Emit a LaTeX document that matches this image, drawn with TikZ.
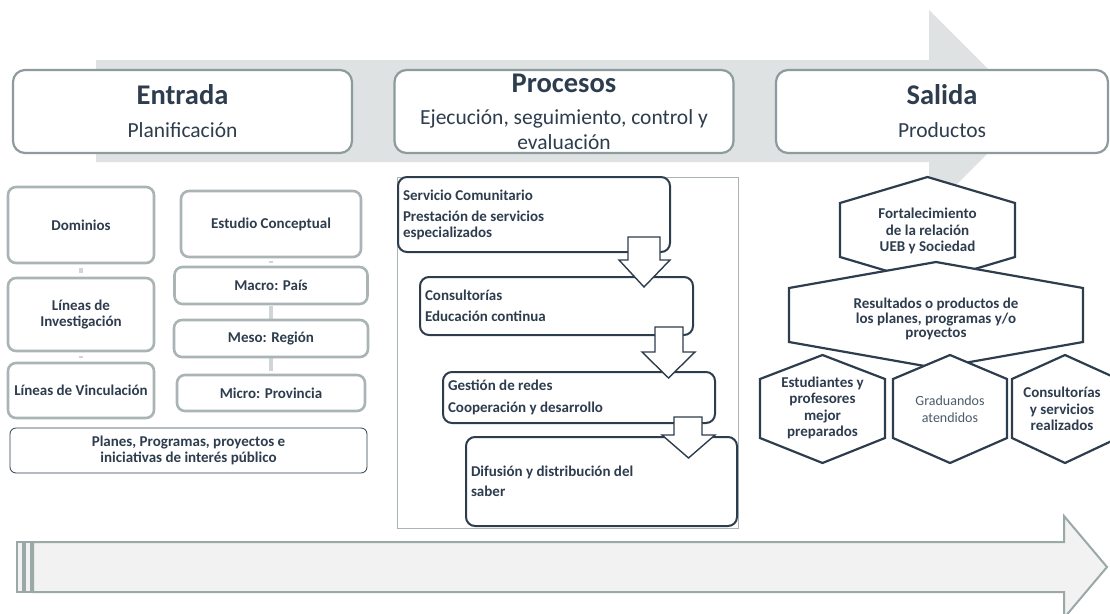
\documentclass[tikz,border=0pt]{standalone}
\usepackage{fontspec}
\setmainfont{Carlito}
\usetikzlibrary{positioning, backgrounds}

\definecolor{slate}{HTML}{2E3D4E}
\definecolor{greyline}{HTML}{8D9B9C}
\definecolor{lightline}{HTML}{AAB4B5}
\definecolor{bandfill}{HTML}{DEE2E3}
\definecolor{basefill}{HTML}{F2F2F2}
\definecolor{arrowline}{HTML}{9AA8A8}

\tikzset{
  headbox/.style={draw=greyline, line width=2.2pt, rounded corners=12pt, fill=white,
    minimum width=339pt, minimum height=83pt, align=center, inner sep=0pt,
    font=\fontsize{21.5}{25}\selectfont},
  leftbox/.style={draw=lightline, line width=2.6pt, rounded corners=8pt, fill=white,
    align=center, inner sep=2pt, font=\fontsize{15}{16.5}\selectfont\bfseries},
  procbox/.style={draw=slate, line width=2pt, rounded corners=9pt, fill=white,
    align=flush left, inner xsep=5pt, inner ysep=0pt, font=\fontsize{15}{15.5}\selectfont\bfseries},
  hexline/.style={draw=slate, line width=2.2pt, fill=white, line join=miter},
  hextext/.style={align=center, inner sep=0pt, font=\fontsize{15}{16.5}\selectfont\bfseries},
  downarrow/.style={draw=slate, line width=1.4pt, fill=white, line join=miter},
  link/.style={lightline!55, line width=3.5pt},
  basearrow/.style={draw=arrowline, fill=basefill}
}

\begin{document}
\begin{tikzpicture}[x=1pt, y=-1pt, text=slate]
    \useasboundingbox (0,0) rectangle (1110,613);

    \coordinate (a01) at (182.5,111.5);
    \coordinate (a02) at (564  ,111.5);
    \coordinate (a03) at (942  ,111.5);

    \coordinate (b01) at (81  ,225);
    \coordinate (b02) at (81  ,314.5);
    \coordinate (b03) at (81  ,390.5);
    \coordinate (b04) at (271 ,224);
    \coordinate (b05) at (271 ,285.5);
    \coordinate (b06) at (271 ,338.5);
    \coordinate (b07) at (271 ,393);
    \coordinate (b08) at (188.5,450.5);

    \coordinate (p01) at (534  ,214.5);
    \coordinate (p02) at (556.5,306);
    \coordinate (p03) at (579  ,397.5);
    \coordinate (p04) at (601.5,481.5);

    \coordinate (s01) at (927.5,231);
    \coordinate (s02) at (936  ,319);
    \coordinate (s03) at (822.5,408);
    \coordinate (s04) at (950  ,409);
    \coordinate (s05) at (1062 ,409);

    % big arrow behind the headers
    \fill[bandfill] (96,60) -- (929,60) -- (929,10) -- (1030,111) -- (929,212) -- (929,162) -- (96,162) -- cycle;

    \node[headbox] (entrada) at (a01) {{\fontsize{28.5}{30}\selectfont\bfseries Entrada}\\[8pt] Planificación};
    \node[headbox] (procesos) at (a02) {{\fontsize{28.5}{30}\selectfont\bfseries Procesos}\\[7pt] Ejecución, seguimiento, control y\\ evaluación};
    \node[headbox, minimum width=332pt] (salida) at (a03) {{\fontsize{28.5}{30}\selectfont\bfseries Salida}\\[8pt] Productos};

    % entrada
    \node[leftbox, minimum width=146pt, minimum height=76pt] (dominios) at (b01) {Dominios};
    \node[leftbox, minimum width=146pt, minimum height=73pt] (lininv) at (b02) {Líneas de\\ Investigación};
    \node[leftbox, minimum width=146pt, minimum height=55pt] (linvin) at (b03) {Líneas de Vinculación};
    \node[leftbox, minimum width=180pt, minimum height=66pt] (estudio) at (b04) {Estudio Conceptual};
    \node[leftbox, minimum width=193pt, minimum height=37pt] (macro) at (b05) {Macro: País};
    \node[leftbox, minimum width=194pt, minimum height=37pt] (meso) at (b06) {Meso: Región};
    \node[leftbox, minimum width=188pt, minimum height=36pt] (micro) at (b07) {Micro: Provincia};
    \node[leftbox, draw=slate, line width=0.8pt, rounded corners=6pt, minimum width=357pt, minimum height=45pt] (planes) at (b08) {Planes, Programas, proyectos e\\ iniciativas de interés público};

    \draw[link, shorten <=4pt, shorten >=4pt] (dominios) -- (lininv);
    \draw[link, shorten <=4pt, shorten >=4pt] (lininv) -- (linvin);
    \draw[link, shorten <=3pt, shorten >=3pt] (estudio) -- (macro);
    \begin{scope}[on background layer]
      \draw[link, shorten <=1pt, shorten >=3pt] (macro.south) -- (micro.north);
    \end{scope}

    % procesos
    \draw[lightline, line width=0.6pt] (397,177) rectangle (738,528);
    \node[procbox, text width=262pt, minimum height=75pt] (servicio) at (p01) {Servicio Comunitario\\[6pt] Prestación de servicios\\ especializados};
    \node[procbox, text width=263pt, minimum height=58pt] (consult) at (p02) {Consultorías\\[6pt] Educación continua};
    \node[procbox, text width=262pt, minimum height=51pt] (gestion) at (p03) {Gestión de redes\\[6pt] Cooperación y desarrollo};
    \node[procbox, text width=261pt, minimum height=89pt] (difusion) at (p04) {Difusión y distribución del\\[4pt] saber};

    \draw[downarrow] (628,237) -- (660,237) -- (660,260) -- (670,260) -- (644,287) -- (619,260) -- (628,260) -- cycle;
    \draw[downarrow] (655,327) -- (683,327) -- (683,352) -- (695,352) -- (668.5,378) -- (642,352) -- (655,352) -- cycle;
    \draw[downarrow] (674,417) -- (702,417) -- (702,435) -- (715,435) -- (688.5,458) -- (662,435) -- (674,435) -- cycle;

    % salida
    \draw[hexline] (927.5,177) -- (1015,203) -- (1015,257) -- (927.5,283) -- (840,257) -- (840,203) -- cycle;
    \draw[hexline] (936,262) -- (1083,288) -- (1083,342) -- (936,368) -- (789,342) -- (789,288) -- cycle;
    \draw[hexline] (822.5,355) -- (885,379) -- (885,438) -- (822.5,463) -- (760,438) -- (760,379) -- cycle;
    \draw[hexline] (950,355) -- (1007,379) -- (1007,438) -- (950,463) -- (893,438) -- (893,379) -- cycle;
    \draw[hexline] (1065,355) -- (1118,379) -- (1118,438) -- (1065,463) -- (1012,438) -- (1012,379) -- cycle;

    \node[hextext] (fortal) at (s01) {Fortalecimiento\\ de la relación\\ UEB y Sociedad};
    \node[hextext, font=\fontsize{15}{14.5}\selectfont\bfseries] (result) at (s02) {Resultados o productos de\\ los planes, programas y/o\\ proyectos};
    \node[hextext, font=\fontsize{15}{16.5}\selectfont\bfseries] (estud) at (s03) {Estudiantes y\\ profesores\\ mejor\\ preparados};
    \node[hextext, font=\fontsize{14}{17}\selectfont, text=slate!85] (gradu) at (s04) {Graduandos\\ atendidos};
    \node[hextext] (consserv) at (s05) {Consultorías\\ y servicios\\ realizados};

    % arrow at the bottom
    \draw[basearrow, line width=1.1pt] (17,542) rectangle (23,592);
    \draw[basearrow, line width=1.1pt] (25,542) rectangle (31,592);
    \draw[basearrow, line width=2pt] (33,542) -- (1064,542) -- (1064,516) -- (1107,567) -- (1064,618) -- (1064,592) -- (33,592) -- cycle;
\end{tikzpicture}
\end{document}
